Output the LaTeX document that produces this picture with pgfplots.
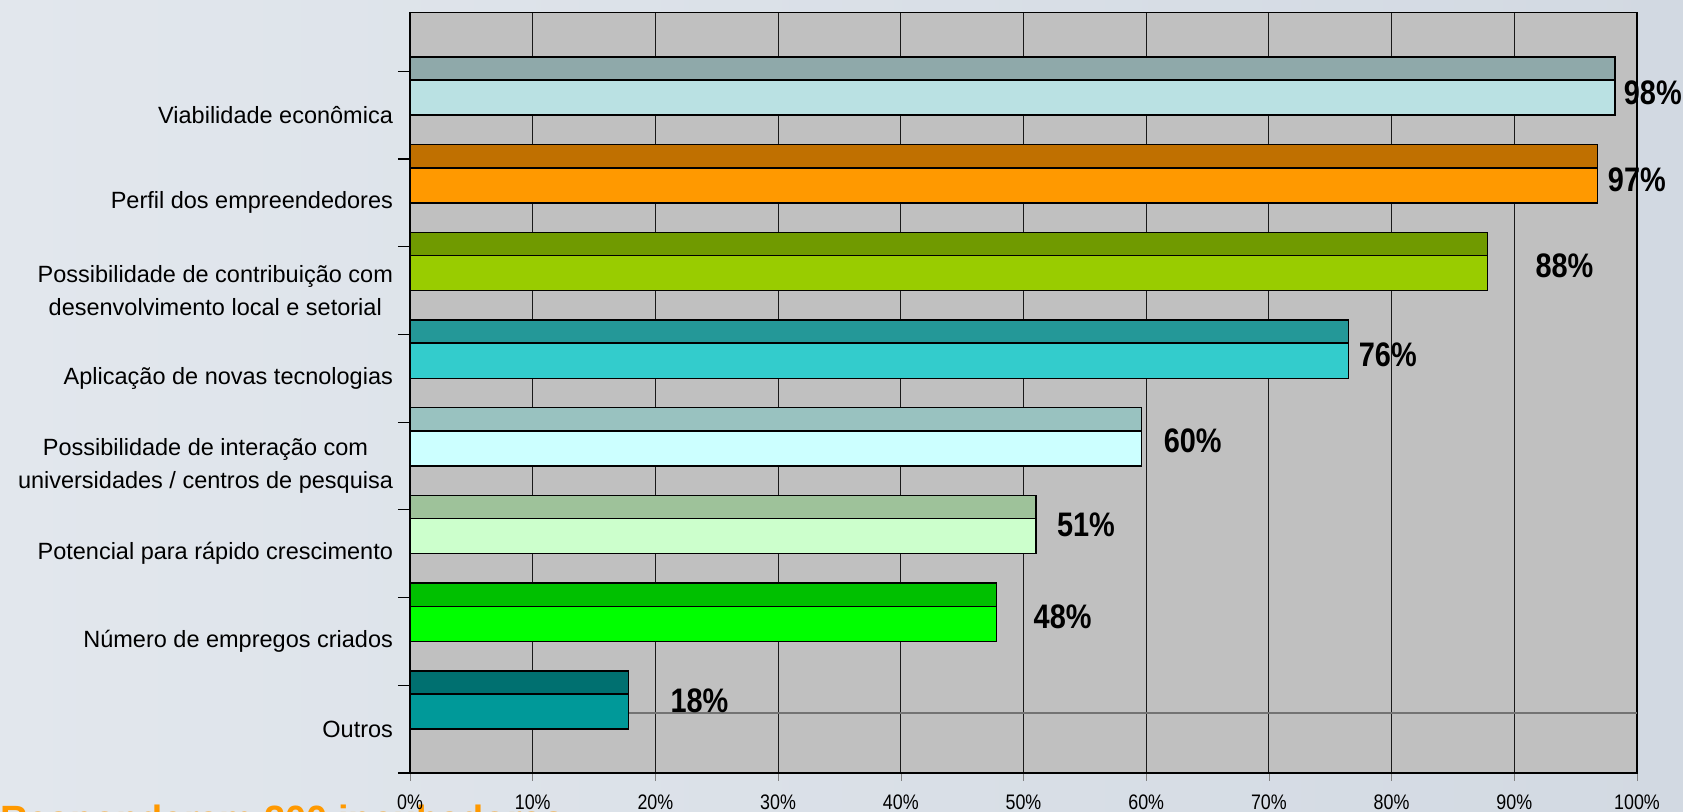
\documentclass[border=0pt]{standalone}
\usepackage{pgfplots}
\pgfplotsset{compat=1.18}
\usepackage{graphicx}
\usepackage{fontspec}
\setmainfont{Liberation Sans}

\definecolor{bgl}{RGB}{226,231,237}
\definecolor{bgr}{RGB}{210,217,226}
\definecolor{wall}{RGB}{192,192,192}
\definecolor{orangetxt}{RGB}{255,153,0}
\definecolor{vtop}{RGB}{143,169,170}
\definecolor{vfront}{RGB}{186,225,227}
\definecolor{ptop}{RGB}{192,112,0}
\definecolor{pfront}{RGB}{255,153,0}
\definecolor{ctop}{RGB}{112,154,0}
\definecolor{cfront}{RGB}{153,204,0}
\definecolor{atop}{RGB}{36,152,152}
\definecolor{afront}{RGB}{51,204,204}
\definecolor{itop}{RGB}{153,194,192}
\definecolor{ifront}{RGB}{204,255,255}
\definecolor{rtop}{RGB}{158,194,154}
\definecolor{rfront}{RGB}{204,255,204}
\definecolor{ntop}{RGB}{0,192,0}
\definecolor{nfront}{RGB}{0,255,0}
\definecolor{otop}{RGB}{0,112,112}
\definecolor{ofront}{RGB}{0,153,153}

\newcommand{\pct}[1]{\scalebox{0.85}[1]{#1\%}}
\newcommand{\val}[1]{\scalebox{0.85}[1]{\bfseries #1\%}}

\pgfplotsset{
  front/.style={xbar, bar shift=0, bar width=0.40, draw=black, line width=0.75pt},
  top/.style={xbar, bar shift=0, bar width=0.27, draw=black, line width=0.75pt},
}

\begin{document}
\begin{tikzpicture}[x=1pt,y=1pt]
\shade[left color=bgl, right color=bgr] (-205,-19.5) rectangle (636.5,386.5);
\node[anchor=base west, inner sep=0, text=orangetxt,
      font=\fontsize{19}{21}\selectfont\bfseries] at (-205,-30)
      {Responderam 200 incubadoras};
\begin{axis}[
  at={(0,0)}, anchor=south west,
  scale only axis, width=613.5pt, height=380.2pt,
  xmin=0, xmax=100, ymin=0, ymax=8.67,
  axis background/.style={fill=wall},
  axis line style={black, line width=0.6pt},
  xtick={0,10,...,100},
  xticklabels={\pct{0},\pct{10},\pct{20},\pct{30},\pct{40},\pct{50},
               \pct{60},\pct{70},\pct{80},\pct{90},\pct{100}},
  xtick pos=bottom, ytick pos=left,
  tick align=outside,
  major tick length=4pt,
  xticklabel style={font=\fontsize{10.5}{12}\selectfont, yshift=-3.5pt},
  xmajorgrids,
  major grid style={black!90, line width=0.5pt},
  ytick={0.5,1.5,...,7.5},
  yticklabels={
    {Outros},
    {Número de empregos criados},
    {Potencial para rápido crescimento},
    {Possibilidade de interação com\\universidades / centros de pesquisa},
    {Aplicação de novas tecnologias},
    {Possibilidade de contribuição com\\desenvolvimento local e setorial},
    {Perfil dos empreendedores},
    {Viabilidade econômica}},
  yticklabel style={align=center, font=\fontsize{11.75}{16.5}\selectfont, xshift=-1pt},
  y tick style={draw=none},
  minor ytick={0,1,...,8},
  minor y tick style={draw=black, line width=0.6pt},
  minor tick length=6pt,
  clip=false,
]
\draw[black!55, line width=1pt] (axis cs:0,0.68) -- (axis cs:100,0.68);

% Viabilidade economica
\addplot[top, fill=vtop] coordinates {(98.2,8.03)};
\addplot[front, fill=vfront] coordinates {(98.2,7.70)};
% Perfil dos empreendedores
\addplot[top, fill=ptop] coordinates {(96.8,7.03)};
\addplot[front, fill=pfront] coordinates {(96.8,6.70)};
% Contribuicao desenvolvimento
\addplot[top, fill=ctop] coordinates {(87.8,6.03)};
\addplot[front, fill=cfront] coordinates {(87.8,5.70)};
% Novas tecnologias
\addplot[top, fill=atop] coordinates {(76.5,5.03)};
\addplot[front, fill=afront] coordinates {(76.5,4.70)};
% Interacao universidades
\addplot[top, fill=itop] coordinates {(59.6,4.03)};
\addplot[front, fill=ifront] coordinates {(59.6,3.70)};
% Rapido crescimento
\addplot[top, fill=rtop] coordinates {(51.0,3.03)};
\addplot[front, fill=rfront] coordinates {(51.0,2.70)};
% Empregos
\addplot[top, fill=ntop] coordinates {(47.8,2.03)};
\addplot[front, fill=nfront] coordinates {(47.8,1.70)};
% Outros
\addplot[top, fill=otop] coordinates {(17.8,1.03)};
\addplot[front, fill=ofront] coordinates {(17.8,0.70)};

\begin{scope}[every node/.style={anchor=west, inner sep=0, font=\fontsize{17}{20}\selectfont}]
\node at (axis cs:98.9,7.76) {\val{98}};
\node at (axis cs:97.6,6.76) {\val{97}};
\node at (axis cs:91.7,5.78) {\val{88}};
\node at (axis cs:77.3,4.77) {\val{76}};
\node at (axis cs:61.4,3.79) {\val{60}};
\node at (axis cs:52.7,2.83) {\val{51}};
\node at (axis cs:50.8,1.78) {\val{48}};
\node at (axis cs:21.2,0.82) {\val{18}};
\end{scope}
\end{axis}
\pgfresetboundingbox
\path[use as bounding box] (-205,-19.5) rectangle (636.5,386.5);
\end{tikzpicture}
\end{document}
